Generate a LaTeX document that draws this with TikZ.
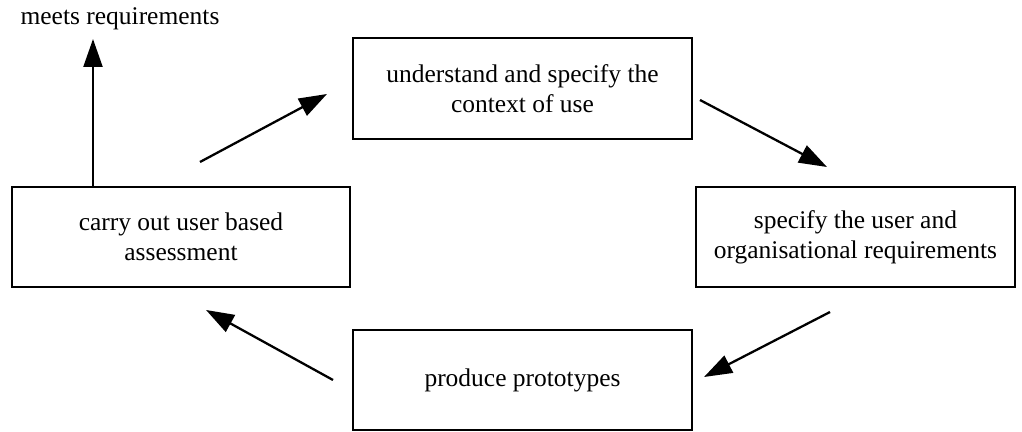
\documentclass[tikz,border=0pt]{standalone}
\usepackage{fontspec}
\setmainfont{Liberation Serif}
\usetikzlibrary{arrows.meta}

\tikzset{
  stage/.style={draw, line width=1.1pt, align=center, inner sep=0pt,
    minimum width=6.78cm, minimum height=2cm, font=\fontsize{14.5}{17}\selectfont},
  flow/.style={line width=1.3pt, -{Triangle[length=0.56cm,width=0.38cm]}}
}

\begin{document}
\begin{tikzpicture}[x=0.02cm,y=-0.02cm]

  \useasboundingbox (0,0) rectangle (1022,432);

  \node[stage, minimum height=2.02cm] (context) at (522.5,88.5) {understand and specify the\\context of use};
  \node[stage, minimum width=6.38cm] (require) at (855.5,237) {specify the user and\\organisational requirements};
  \node[stage] (proto) at (522.5,380) {produce prototypes};
  \node[stage, minimum width=6.76cm] (assess) at (181,237) {carry out user based\\assessment};
  \node[font=\fontsize{14.5}{17}\selectfont] (meets) at (120,19) {meets requirements};

  % free arrow ends
  \coordinate (a1) at (200,162); \coordinate (b1) at (327,94);
  \coordinate (a2) at (700,100); \coordinate (b2) at (827,167);
  \coordinate (a3) at (830,312); \coordinate (b3) at (704,377);
  \coordinate (a4) at (333,380); \coordinate (b4) at (206,310);
  \coordinate (top) at (93,39);

  \draw[flow] (assess.north -| top) -- (top);
  \draw[flow] (a1) -- (b1);
  \draw[flow] (a2) -- (b2);
  \draw[flow] (a3) -- (b3);
  \draw[flow] (a4) -- (b4);

\end{tikzpicture}
\end{document}
